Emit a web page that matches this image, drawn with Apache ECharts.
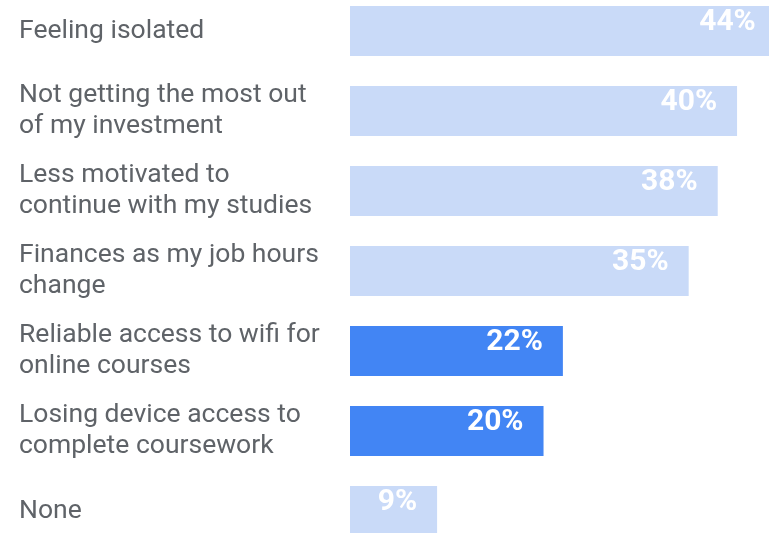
<!DOCTYPE html>
<html>
<head>
<meta charset="utf-8">
<script src="https://cdn.jsdelivr.net/npm/echarts@6/dist/echarts.min.js"></script>
<style>
html,body{margin:0;padding:0;background:#fff;}
#chart{width:769px;height:533px;}
</style>
</head>
<body>
<div id="chart"></div>
<script>
const categories = [
  "Feeling isolated",
  "Not getting the most out\nof my investment",
  "Less motivated to\ncontinue with my studies",
  "Finances as my job hours\nchange",
  "Reliable access to wifi for\nonline courses",
  "Losing device access to\ncomplete coursework",
  "None"
];
const values = [44, 40, 38, 35, 22, 20, 9];
const highlighted = [
  "Reliable access to wifi for\nonline courses",
  "Losing device access to\ncomplete coursework"
];

const chart = echarts.init(document.getElementById('chart'), null, {renderer: 'canvas'});
chart.setOption({
  animation: false,
  backgroundColor: '#ffffff',
  grid: {left: 350, right: 0, top: 31, bottom: 22, containLabel: false},
  xAxis: {
    type: 'value', min: 0, max: 43.3,
    show: false
  },
  yAxis: {
    type: 'category',
    data: categories,
    inverse: true,
    boundaryGap: false,
    axisLine: {show: false},
    axisTick: {show: false},
    splitLine: {show: false},
    axisLabel: {
      align: 'left',
      margin: 331,
      color: '#5f6368',
      fontFamily: 'Roboto',
      fontSize: 26.5,
      lineHeight: 31
    }
  },
  series: [{
    type: 'bar',
    barWidth: 50,
    clip: false,
    data: values.map((v, i) => ({
      value: v,
      itemStyle: {color: highlighted.includes(categories[i]) ? '#4285f4' : '#c9daf8'}
    })),
    label: {
      show: true,
      position: 'insideRight',
      distance: 20,
      offset: [0, -9],
      color: '#ffffff',
      fontFamily: 'Roboto',
      fontWeight: 'bold',
      fontSize: 30,
      formatter: p => p.value + '%'
    }
  }]
});
</script>
</body>
</html>
